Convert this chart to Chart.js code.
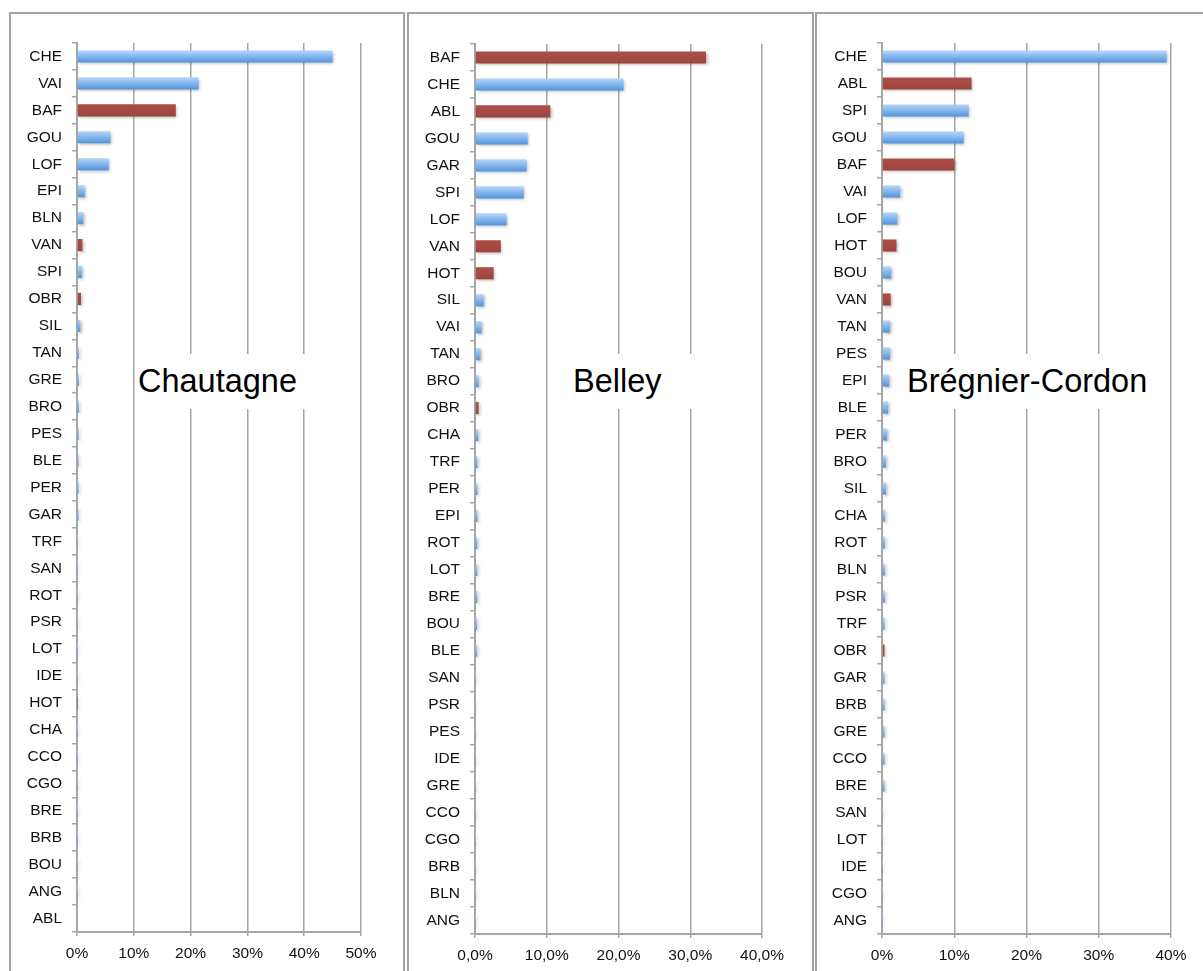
<!DOCTYPE html>
<html>
<head>
<meta charset="utf-8">
<script src="https://cdn.jsdelivr.net/npm/chart.js@4"></script>
<style>
body { margin: 0; background: #fff; width: 1203px; height: 971px; overflow: hidden; position: relative; font-family: "Liberation Sans", Arial, sans-serif; }
.frame { position: absolute; top: 12px; height: 1000px; border: 2px solid #a3a3a3; box-sizing: border-box; }
canvas { position: absolute; top: 13px; }
.site { position: absolute; top: 354px; height: 55px; line-height: 55px; background: #fff; font-size: 32.5px; color: #000; white-space: nowrap; box-sizing: border-box; }
</style>
</head>
<body>
<div class="frame" style="left:9px;width:396px"></div>
<div class="frame" style="left:407px;width:407px"></div>
<div class="frame" style="left:815px;width:420px"></div>
<canvas id="chart_chautagne" width="393" height="958" style="left:10px"></canvas>
<canvas id="chart_belley" width="404" height="958" style="left:408px"></canvas>
<canvas id="chart_bregnier" width="387" height="958" style="left:816px"></canvas>
<div class="site" style="left:137px;width:200px;padding-left:1px">Chautagne</div>
<div class="site" style="left:555px;width:150px;padding-left:18px">Belley</div>
<div class="site" style="left:900px;width:255px;padding-left:7px">Brégnier-Cordon</div>
<script>
'use strict';
// species share (%) per site, sorted as in the original figure
var chautagneLabels = ['CHE', 'VAI', 'BAF', 'GOU', 'LOF', 'EPI', 'BLN', 'VAN', 'SPI', 'OBR', 'SIL', 'TAN', 'GRE', 'BRO', 'PES', 'BLE', 'PER', 'GAR', 'TRF', 'SAN', 'ROT', 'PSR', 'LOT', 'IDE', 'HOT', 'CHA', 'CCO', 'CGO', 'BRE', 'BRB', 'BOU', 'ANG', 'ABL'];
var chautagneValues = [45.0, 21.4, 17.4, 5.9, 5.6, 1.35, 1.1, 0.95, 0.85, 0.7, 0.6, 0.35, 0.35, 0.35, 0.32, 0.3, 0.3, 0.3, 0.04, 0.04, 0.03, 0.03, 0.03, 0.03, 0.03, 0.03, 0.02, 0.02, 0.02, 0.02, 0.02, 0.02, 0];

var belleyLabels = ['BAF', 'CHE', 'ABL', 'GOU', 'GAR', 'SPI', 'LOF', 'VAN', 'HOT', 'SIL', 'VAI', 'TAN', 'BRO', 'OBR', 'CHA', 'TRF', 'PER', 'EPI', 'ROT', 'LOT', 'BRE', 'BOU', 'BLE', 'SAN', 'PSR', 'PES', 'IDE', 'GRE', 'CCO', 'CGO', 'BRB', 'BLN', 'ANG'];
var belleyValues = [32.2, 20.7, 10.5, 7.35, 7.2, 6.8, 4.4, 3.6, 2.6, 1.2, 0.9, 0.75, 0.5, 0.5, 0.45, 0.35, 0.35, 0.35, 0.33, 0.33, 0.33, 0.3, 0.3, 0.03, 0.03, 0.03, 0.03, 0.02, 0.02, 0.02, 0.02, 0.02, 0.02];

var bregnierLabels = ['CHE', 'ABL', 'SPI', 'GOU', 'BAF', 'VAI', 'LOF', 'HOT', 'BOU', 'VAN', 'TAN', 'PES', 'EPI', 'BLE', 'PER', 'BRO', 'SIL', 'CHA', 'ROT', 'BLN', 'PSR', 'TRF', 'OBR', 'GAR', 'BRB', 'GRE', 'CCO', 'BRE', 'SAN', 'LOT', 'IDE', 'CGO', 'ANG'];
var bregnierValues = [39.4, 12.4, 12.0, 11.3, 10.0, 2.5, 2.1, 2.0, 1.25, 1.2, 1.1, 1.1, 0.98, 0.83, 0.7, 0.55, 0.55, 0.4, 0.4, 0.4, 0.4, 0.35, 0.35, 0.35, 0.35, 0.35, 0.35, 0.35, 0.03, 0.03, 0.03, 0.03, 0.03];

// species drawn in red
var redSpecies = ['BAF', 'VAN', 'OBR', 'HOT', 'ABL'];

Chart.defaults.font.family = '"Liberation Sans", Arial, sans-serif';

function barColor(c) {
	var red = redSpecies.indexOf(c.chart.data.labels[c.dataIndex]) >= 0;
	var flat = red ? '#a64a44' : '#7fb3ec';
	var y = c.chart.scales.y;
	if (!y || c.dataIndex === undefined) return flat;
	var py = y.getPixelForValue(c.dataIndex);
	if (!isFinite(py)) return flat;
	var g = c.chart.ctx.createLinearGradient(0, py - 6, 0, py + 6);
	if (red) {
		g.addColorStop(0, '#ad4e48');
		g.addColorStop(1, '#9d443e');
	} else {
		g.addColorStop(0, '#b5d6fb');
		g.addColorStop(1, '#5294dd');
	}
	return g;
}

var barShadow = {
	id: 'barShadow',
	beforeDatasetsDraw: function (chart) {
		var x = chart.ctx;
		x.save();
		x.shadowColor = 'rgba(0,0,0,0.28)';
		x.shadowBlur = 3;
		x.shadowOffsetX = 1.5;
		x.shadowOffsetY = 1.5;
	},
	afterDatasetsDraw: function (chart) {
		chart.ctx.restore();
	}
};

function makeChart(id, labels, values, max, fmt, top, right, yWidth, xHeight) {
	var grey = '#a6a6a6';
	return new Chart(document.getElementById(id), {
		type: 'bar',
		data: {
			labels: labels,
			datasets: [{ data: values, backgroundColor: barColor, barPercentage: 0.45, categoryPercentage: 1, borderWidth: 0 }]
		},
		options: {
			indexAxis: 'y',
			responsive: false,
			animation: false,
			events: [],
			devicePixelRatio: 1,
			layout: { padding: { top: top, right: right, bottom: 0, left: 0 } },
			plugins: { legend: { display: false }, tooltip: { enabled: false }, title: { display: false } },
			scales: {
				x: {
					min: 0,
					max: max,
					ticks: { stepSize: 10, callback: fmt, color: '#111', font: { size: 15.5 }, padding: 8, maxRotation: 0 },
					grid: { color: grey, lineWidth: 1.5, tickLength: 4, tickColor: grey },
					border: { color: grey, width: 2 },
					afterFit: function (s) { s.height = xHeight; }
				},
				y: {
					ticks: { autoSkip: false, color: '#111', font: { size: 15.5 }, padding: 10 },
					grid: { drawOnChartArea: false, tickLength: 5, color: grey, lineWidth: 1.5 },
					border: { color: grey, width: 2 },
					afterFit: function (s) { s.width = yWidth; }
				}
			}
		},
		plugins: [barShadow]
	});
}

function pct(v) { return v + '%'; }
function pctComma(v) { return v.toFixed(1).replace('.', ',') + '%'; }

makeChart('chart_chautagne', chautagneLabels, chautagneValues, 50, pct, 30, 42, 67, 39);
makeChart('chart_belley', belleyLabels, belleyValues, 40, pctComma, 31, 50, 67, 37);
makeChart('chart_bregnier', bregnierLabels, bregnierValues, 40, pct, 30, 32, 66, 37);
</script>
</body>
</html>
